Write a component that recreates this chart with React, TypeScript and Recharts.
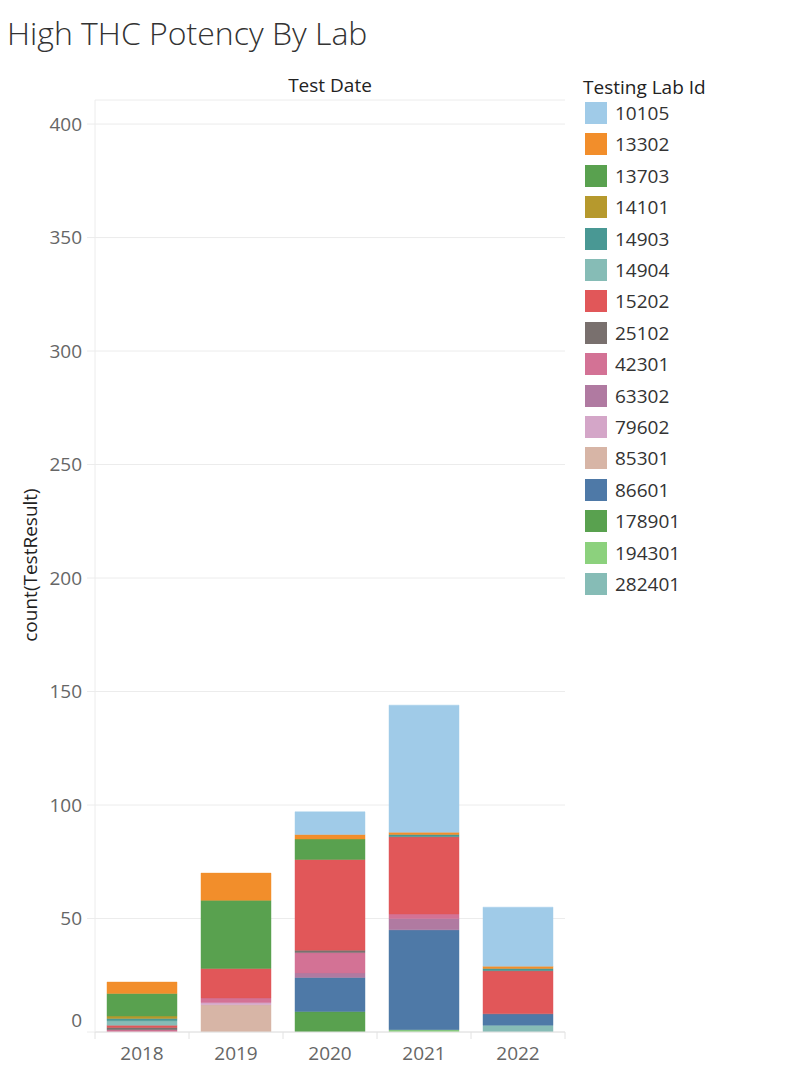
import React from 'react';
import { BarChart, Bar, XAxis, YAxis, CartesianGrid } from 'recharts';

const years = ['2018', '2019', '2020', '2021', '2022'];
const yTicks = [0, 50, 100, 150, 200, 250, 300, 350, 400];

// legend order (top of legend = top of stack)
const labIds = [
  '10105', '13302', '13703', '14101', '14903', '14904', '15202', '25102',
  '42301', '63302', '79602', '85301', '86601', '178901', '194301', '282401',
];
const labColors = [
  '#a0cbe8', '#f28e2b', '#59a14f', '#b6992d', '#499894', '#86bcb6', '#e15759', '#79706e',
  '#d37295', '#b07aa1', '#d4a6c8', '#d7b5a6', '#4e79a7', '#59a14f', '#8cd17d', '#86bcb6',
];

// counts per year, 2018..2022
const lab10105 = [0, 0, 10, 56, 26];
const lab13302 = [5, 12, 2, 1, 1];
const lab13703 = [10, 30, 9, 0, 0];
const lab14101 = [1, 0, 0, 0, 0];
const lab14903 = [1, 0, 0, 1, 1];
const lab14904 = [2, 0, 0, 0, 0];
const lab15202 = [1, 13, 40, 34, 19];
const lab25102 = [1, 0, 1, 0, 0];
const lab42301 = [1, 2, 9, 2, 0];
const lab63302 = [0, 0, 2, 5, 0];
const lab79602 = [0, 1, 0, 0, 0];
const lab85301 = [0, 12, 0, 0, 0];
const lab86601 = [0, 0, 15, 44, 5];
const lab178901 = [0, 0, 9, 0, 0];
const lab194301 = [0, 0, 0, 1, 0];
const lab282401 = [0, 0, 0, 0, 3];

const labCounts = [
  lab10105, lab13302, lab13703, lab14101, lab14903, lab14904, lab15202, lab25102,
  lab42301, lab63302, lab79602, lab85301, lab86601, lab178901, lab194301, lab282401,
];

const data = years.map((year, i) => {
  const row: Record<string, string | number> = { year };
  labIds.forEach((id, j) => {
    row['lab' + id] = labCounts[j][i];
  });
  return row;
});

const FONT = '"Open Sans", "Noto Sans", sans-serif';
const BAND = 94;

const YTick = (props: any) => {
  const { x, y, payload } = props;
  const shift = payload.value === 0 ? -12 : 0;
  return (
    <text x={x} y={y + shift} dy="0.35em" textAnchor="end" fill="#666" fontSize={19} fontFamily={FONT}>
      {payload.value}
    </text>
  );
};

const XTick = (props: any) => {
  const { x, y, payload, index } = props;
  const last = index === years.length - 1;
  return (
    <g>
      <line x1={x - BAND / 2} x2={x - BAND / 2} y1={y} y2={y + 7} stroke="#e2e2e2" />
      {last && <line x1={x + BAND / 2} x2={x + BAND / 2} y1={y} y2={y + 7} stroke="#e2e2e2" />}
      <text x={x} y={y + 21} dy="0.35em" textAnchor="middle" fill="#666" fontSize={19} fontFamily={FONT}>
        {payload.value}
      </text>
    </g>
  );
};

export default function App() {
  // stack from the bottom: reverse of the legend order
  const stackOrder = labIds.map((id, j) => ({ id, color: labColors[j] })).reverse();

  return (
    <div style={{ position: 'absolute', left: 0, top: 0, width: 800, height: 1067, background: '#fff', fontFamily: FONT }}>
      <div style={{ position: 'absolute', left: 7, top: 11, fontSize: 32, fontWeight: 300, color: '#333', whiteSpace: 'nowrap' }}>
        High THC Potency By Lab
      </div>
      <div style={{ position: 'absolute', left: 95, width: 470, top: 72, textAlign: 'center', fontSize: 19, color: '#222' }}>
        Test Date
      </div>
      <div
        style={{
          position: 'absolute', left: 30, top: 565, fontSize: 19, color: '#222', whiteSpace: 'nowrap',
          transform: 'translate(-50%, -50%) rotate(-90deg)',
        }}
      >
        count(TestResult)
      </div>

      <BarChart
        width={800}
        height={1067}
        data={data}
        margin={{ top: 100, right: 235, bottom: 0, left: 35 }}
        barSize={70}
      >
        <CartesianGrid vertical={false} stroke="#ececec" />
        <XAxis
          dataKey="year"
          height={35}
          tickLine={false}
          tickSize={0}
          tickMargin={0}
          axisLine={{ stroke: '#e2e2e2' }}
          tick={<XTick />}
          interval={0}
        />
        <YAxis
          width={60}
          domain={[0, 410.6]}
          ticks={yTicks}
          allowDataOverflow
          axisLine={{ stroke: '#ececec' }}
          tickLine={{ stroke: '#ececec' }}
          tickSize={8}
          tickMargin={5}
          tick={<YTick />}
        />
        {stackOrder.map((lab) => (
          <Bar
            key={lab.id}
            dataKey={'lab' + lab.id}
            stackId="a"
            fill={lab.color}
            stroke={lab.color}
            strokeOpacity={0.9}
            strokeWidth={0.5}
            isAnimationActive={false}
          />
        ))}
      </BarChart>

      <div style={{ position: 'absolute', left: 583, top: 74, fontSize: 19, color: '#222', whiteSpace: 'nowrap' }}>
        Testing Lab Id
      </div>
      {labIds.map((id, j) => (
        <div
          key={id}
          style={{ position: 'absolute', left: 585, top: 102 + j * 31.4, height: 22, display: 'flex', alignItems: 'center' }}
        >
          <div style={{ width: 22, height: 22, background: labColors[j] }} />
          <span style={{ marginLeft: 8, fontSize: 19, color: '#333' }}>{id}</span>
        </div>
      ))}
    </div>
  );
}
